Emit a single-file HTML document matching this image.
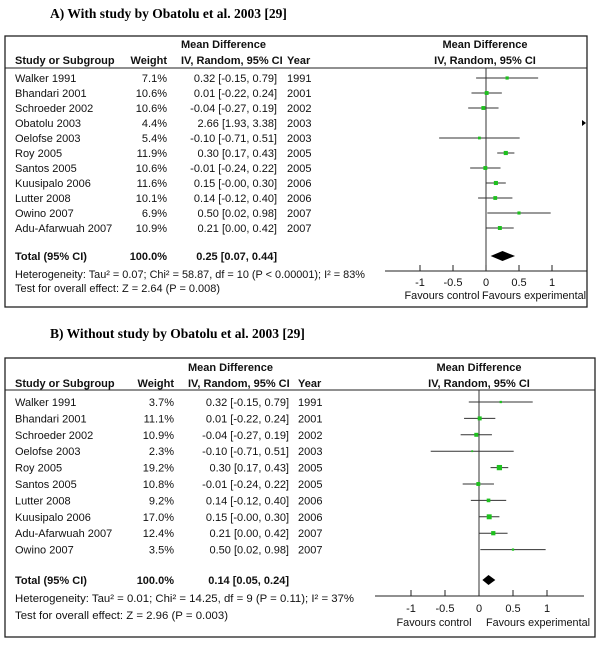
<!DOCTYPE html>
<html><head><meta charset="utf-8">
<style>
html,body{margin:0;padding:0;background:#fff;}
svg{display:block;font-family:"Liberation Sans",Arial,sans-serif;}
.t{font-size:11px;fill:#111;}
.b{font-weight:bold;}
.title{font-family:"Liberation Serif",serif;font-weight:bold;font-size:13.5px;fill:#000;}
</style></head>
<body>
<svg id="chart" width="600" height="647" viewBox="0 0 600 647" xmlns="http://www.w3.org/2000/svg"></svg>
<script>
// Panel A data
const studiesA = ["Walker 1991","Bhandari 2001","Schroeder 2002","Obatolu 2003","Oelofse 2003","Roy 2005","Santos 2005","Kuusipalo 2006","Lutter 2008","Owino 2007","Adu-Afarwuah 2007"];
const weightsA = [7.1,10.6,10.6,4.4,5.4,11.9,10.6,11.6,10.1,6.9,10.9];
const meansA = [0.32,0.01,-0.04,2.66,-0.10,0.30,-0.01,0.15,0.14,0.50,0.21];
const lowsA = [-0.15,-0.22,-0.27,1.93,-0.71,0.17,-0.24,-0.00,-0.12,0.02,0.00];
const highsA = [0.79,0.24,0.19,3.38,0.51,0.43,0.22,0.30,0.40,0.98,0.42];
const yearsA = [1991,2001,2002,2003,2003,2005,2005,2006,2006,2007,2007];
const totalA = [0.25,0.07,0.44];
// Panel B data
const studiesB = ["Walker 1991","Bhandari 2001","Schroeder 2002","Oelofse 2003","Roy 2005","Santos 2005","Lutter 2008","Kuusipalo 2006","Adu-Afarwuah 2007","Owino 2007"];
const weightsB = [3.7,11.1,10.9,2.3,19.2,10.8,9.2,17.0,12.4,3.5];
const meansB = [0.32,0.01,-0.04,-0.10,0.30,-0.01,0.14,0.15,0.21,0.50];
const lowsB = [-0.15,-0.22,-0.27,-0.71,0.17,-0.24,-0.12,-0.00,0.00,0.02];
const highsB = [0.79,0.24,0.19,0.51,0.43,0.22,0.40,0.30,0.42,0.98];
const yearsB = [1991,2001,2002,2003,2005,2005,2006,2006,2007,2007];
const totalB = [0.14,0.05,0.24];
const ticks = [-1,-0.5,0,0.5,1];

const NS="http://www.w3.org/2000/svg";
const svg=document.getElementById('chart');
function mk(tag,attrs,parent,text){const e=document.createElementNS(NS,tag);for(const k in attrs)e.setAttribute(k,attrs[k]);if(text!==undefined)e.textContent=text;(parent||svg).appendChild(e);return e;}
function f2(v){return ((v<0||Object.is(v,-0))?"-":"")+Math.abs(v).toFixed(2);}
function ci(m,l,h){return f2(m)+" ["+f2(l)+", "+f2(h)+"]";}

function panel(P){
  const g=mk('g',{});
  
  
  const tt=mk('text',{x:50,y:P.titleY,class:'title'},g,P.title);
  
  
  const box=mk('rect',{x:5,y:P.boxTop,width:P.boxR-5,height:P.boxBot-P.boxTop,fill:'none',stroke:'#222','stroke-width':1.3},g);
  
  
  mk('text',{x:P.ciX,y:P.h1,class:'t b'},g,"Mean Difference");
  mk('text',{x:P.plotC,y:P.h1,class:'t b','text-anchor':'middle'},g,"Mean Difference");
  mk('text',{x:15,y:P.h2,class:'t b'},g,"Study or Subgroup");
  mk('text',{x:P.wR,y:P.h2,class:'t b','text-anchor':'end'},g,"Weight");
  mk('text',{x:P.ciX,y:P.h2,class:'t b'},g,"IV, Random, 95% CI");
  mk('text',{x:P.yearX,y:P.h2,class:'t b'},g,"Year");
  mk('text',{x:P.plotC,y:P.h2,class:'t b','text-anchor':'middle'},g,"IV, Random, 95% CI");
  mk('line',{x1:5,x2:P.boxR,y1:P.hl,y2:P.hl,stroke:'#222','stroke-width':1},g);
  const X=v=>P.zero+v*P.unit;
  const zl=mk('line',{x1:X(0),x2:X(0),y1:P.hl,y2:P.axisY,stroke:'#333','stroke-width':1},g);
  
  
  const maxX=P.boxR-2;
  P.studies.forEach((s,i)=>{
    const y=P.row0+i*P.step;
    const r=mk('g',{},g);
    
    
    mk('text',{x:15,y:y,class:'t'},r,s);
    mk('text',{x:P.wR,y:y,class:'t','text-anchor':'end'},r,P.weights[i].toFixed(1)+"%");
    mk('text',{x:P.ciR,y:y,class:'t','text-anchor':'end'},r,ci(P.means[i],P.lows[i],P.highs[i]));
    mk('text',{x:P.yearX,y:y,class:'t'},r,P.years[i]);
    const cy=y-4;
    const xm=X(P.means[i]);
    if(xm>maxX){
      const a=mk('path',{d:`M${maxX-3},${cy-3} L${maxX+1},${cy} L${maxX-3},${cy+3} Z`,fill:'#000'},r);
      
      
    } else {
      const ln=mk('line',{x1:X(P.lows[i]),x2:Math.min(X(P.highs[i]),maxX),y1:cy,y2:cy,stroke:'#333','stroke-width':1},r);
      
      
      const sz=P.ms*Math.sqrt(P.weights[i]);
      const sq=mk('rect',{x:xm-sz/2,y:cy-sz/2,width:sz,height:sz,fill:'#1ec01e'},r);
      
      
    }
  });
  const ty=P.totalY;
  mk('text',{x:15,y:ty,class:'t b'},g,"Total (95% CI)");
  mk('text',{x:P.wR,y:ty,class:'t b','text-anchor':'end'},g,"100.0%");
  mk('text',{x:P.ciR,y:ty,class:'t b','text-anchor':'end'},g,ci(P.total[0],P.total[1],P.total[2]));
  const dy=ty-4;
  const d=mk('path',{d:`M${X(P.total[1])},${dy} L${X(P.total[0])},${dy-5} L${X(P.total[2])},${dy} L${X(P.total[0])},${dy+5} Z`,fill:'#000'},g);
  
  
  mk('text',{x:15,y:P.hetY,class:'t',textLength:P.hetW,lengthAdjust:'spacingAndGlyphs'},g,P.het);
  mk('text',{x:15,y:P.testY,class:'t',textLength:P.testW,lengthAdjust:'spacingAndGlyphs'},g,P.test);
  const ax=mk('g',{},g);
  
  
  mk('line',{x1:P.axL,x2:P.axR,y1:P.axisY,y2:P.axisY,stroke:'#222','stroke-width':1},ax);
  ticks.forEach(t=>{
    mk('line',{x1:X(t),x2:X(t),y1:P.axisY-6,y2:P.axisY,stroke:'#222','stroke-width':1},ax);
    mk('text',{x:X(t),y:P.tickY,class:'t','text-anchor':'middle'},ax,String(t));
  });
  mk('text',{x:P.favL,y:P.favY,class:'t','text-anchor':'middle',textLength:75,lengthAdjust:'spacingAndGlyphs'},ax,"Favours control");
  mk('text',{x:P.favR,y:P.favY,class:'t','text-anchor':'middle',textLength:104,lengthAdjust:'spacingAndGlyphs'},ax,"Favours experimental");
}

panel({name:'panel-a',title:"A)  With study by Obatolu et al. 2003 [29]",titleY:18,boxTop:36,boxBot:307,boxR:587,
 h1:48,h2:64,hl:68,ciX:181,wR:167,ciR:277,yearX:287,plotC:485,zero:486,unit:66,ms:1.2,
 studies:studiesA,weights:weightsA,means:meansA,lows:lowsA,highs:highsA,years:yearsA,total:totalA,
 row0:82,step:15,totalY:260,hetY:278,testY:292,
 het:"Heterogeneity: Tau² = 0.07; Chi² = 58.87, df = 10 (P < 0.00001); I² = 83%",hetW:350,
 test:"Test for overall effect: Z = 2.64 (P = 0.008)",testW:205,
 axisY:271,axL:385,axR:587,tickY:286,favY:299,favL:442,favR:534});

panel({name:'panel-b',title:"B)  Without study by Obatolu et al. 2003 [29]",titleY:338,boxTop:358,boxBot:637,boxR:595,
 h1:371,h2:387,hl:390,ciX:188,wR:174,ciR:289,yearX:298,plotC:479,zero:479,unit:68,ms:1.2,
 studies:studiesB,weights:weightsB,means:meansB,lows:lowsB,highs:highsB,years:yearsB,total:totalB,
 row0:406,step:16.4,totalY:584,hetY:602,testY:619,
 het:"Heterogeneity: Tau² = 0.01; Chi² = 14.25, df = 9 (P = 0.11); I² = 37%",hetW:339,
 test:"Test for overall effect: Z = 2.96 (P = 0.003)",testW:213,
 axisY:596,axL:375,axR:584,tickY:612,favY:626,favL:434,favR:538});
</script>
</body></html>
